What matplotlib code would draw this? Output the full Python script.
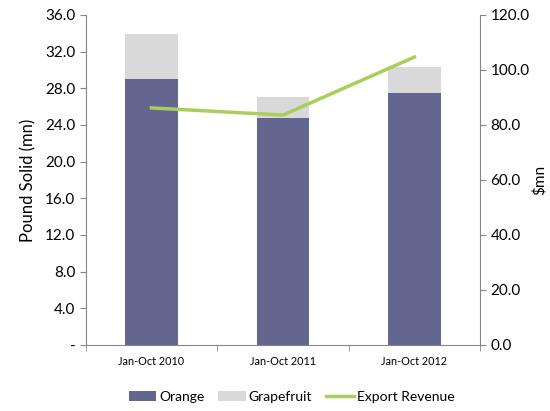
import numpy as np
import matplotlib
matplotlib.use("Agg")
import matplotlib.pyplot as plt
from matplotlib.ticker import FuncFormatter, FixedLocator

plt.rcParams["font.family"] = ["Lato", "DejaVu Sans"]

periods = ["Jan-Oct 2010", "Jan-Oct 2011", "Jan-Oct 2012"]
orange = [29.0, 24.8, 27.5]
grapefruit = [4.9, 2.3, 2.8]
revenue = [86.2, 83.6, 104.7]

C_OR, C_GF, C_LN, C_AX = "#63668F", "#D9D9D9", "#A9CF5A", "#868686"

fig = plt.figure(figsize=(5.5, 4.11), dpi=100)
ax = fig.add_axes([0.156, 0.1606, 0.717, 0.803])
x = np.arange(len(periods))
ax.bar(x, orange, 0.4, color=C_OR, label="Orange", zorder=2)
ax.bar(x, grapefruit, 0.4, bottom=orange, color=C_GF, label="Grapefruit", zorder=2)
ax.set_xlim(-0.5, 2.5)
ax.set_ylim(0, 36)
ax.set_yticks(np.arange(0, 37, 4))
ax.yaxis.set_major_formatter(FuncFormatter(lambda v, p: "-" if v == 0 else f"{v:.1f}"))
ax.set_xticks(x)
ax.set_xticklabels(periods, fontsize=7.8)
ax.xaxis.set_minor_locator(FixedLocator([-0.5, 0.5, 1.5, 2.5]))
ax.tick_params(axis="x", which="major", length=0, pad=8)
ax.tick_params(axis="x", which="minor", length=4, color=C_AX)
ax.tick_params(axis="y", labelsize=11, length=4, color=C_AX)
ax.set_ylabel("Pound Solid (mn)", fontsize=12, labelpad=6)
for s in ["top", "right"]:
    ax.spines[s].set_visible(False)
for s in ["left", "bottom"]:
    ax.spines[s].set_color(C_AX)

ax2 = ax.twinx()
ax2.plot(x, revenue, color=C_LN, lw=2.5, label="Export Revenue")
ax2.set_ylim(0, 120)
ax2.set_yticks(np.arange(0, 121, 20))
ax2.yaxis.set_major_formatter(FuncFormatter(lambda v, p: f"{v:.1f}"))
ax2.tick_params(axis="y", labelsize=11, length=4, color=C_AX)
ax2.set_ylabel("$mn", fontsize=11, labelpad=2)
for s in ["top", "left", "bottom"]:
    ax2.spines[s].set_visible(False)
ax2.spines["right"].set_color(C_AX)

h1, l1 = ax.get_legend_handles_labels()
h2, l2 = ax2.get_legend_handles_labels()
fig.legend(h1 + h2, l1 + l2, loc="lower center", bbox_to_anchor=(0.53, -0.01),
           ncol=3, frameon=False, fontsize=10, handlelength=2.0,
           handletextpad=0.2, columnspacing=1.0)

fig.savefig("out.png", dpi=100)
